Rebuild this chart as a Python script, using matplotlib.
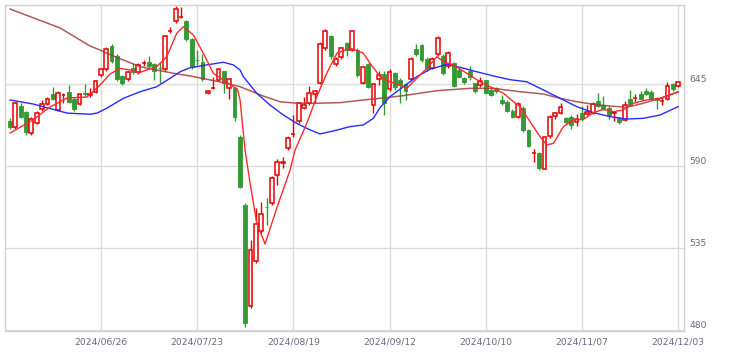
import matplotlib
matplotlib.use("Agg")
import matplotlib.pyplot as plt
import numpy as np

# ---- data ----
tick_labels = ["2024/06/26", "2024/07/23", "2024/08/19", "2024/09/12",
               "2024/10/10", "2024/11/07", "2024/12/03"]
tick_index = [17, 35, 53, 71, 89, 107, 125]

opens = [620, 616, 630, 626, 612, 619, 628, 631.6, 638, 627.6,
         637.4, 639.6, 635, 631.6, 639, 637.8, 639.6, 651, 655, 670.5,
         664, 650.4, 648.3, 655.7, 653, 659, 659.8, 658.4, 656, 655,
         680.3, 687.3, 689.7, 687, 675, 661.3, 659.8, 639, 642.3, 647.7,
         653.7, 642.3, 642.3, 609.5, 563.8, 496, 526.3, 546.4, 562.8, 565.2,
         584, 592.2, 602.1, 611.3, 620.2, 628.9, 632.3, 638.3, 645.7, 669.1,
         677.2, 658.4, 663.1, 672.5, 667.8, 667.8, 645.7, 658.4, 630.9, 648.3,
         651.7, 641.6, 652.4, 647.7, 645, 648.3, 668.5, 671.2, 661.8, 655.7,
         665, 663.8, 657.1, 659.1, 654.4, 649, 653.7, 645.7, 644.3, 647.7,
         641, 642.3, 634.3, 632.9, 626.9, 622.9, 628.9, 614.2, 598.5, 598.7,
         588, 610.1, 623.5, 625.5, 622.2, 622.9, 619.5, 625.5, 624.9, 625.5,
         633.6, 630.9, 628.9, 625.5, 622.2, 620.9, 634.9, 635.5, 638.3, 640.3,
         639.6, 635.6, 633.4, 634.9, 645, 643.7]
highs = [622, 633, 632, 627, 623, 627, 634, 636, 643, 640,
         639, 644, 636, 639, 645, 642, 648, 656, 670, 672,
         665, 651, 654, 659, 659, 661, 664, 659, 660, 678,
         683, 697, 696.6, 688, 676, 668, 665, 641, 649.7, 656,
         654, 649, 643, 611, 565, 540.4, 562, 566, 568.5, 583,
         595, 596, 610, 624.2, 633, 636.3, 643.7, 641, 673, 682,
         678, 663, 670, 673, 681.5, 669, 657, 659, 646, 653.7,
         653.7, 655, 653, 649, 646, 663, 672, 672, 663, 663,
         677, 665, 667, 660, 656, 650, 657, 646, 650, 648,
         642, 643, 637.6, 634, 628, 633, 630, 615, 601.7, 599.5,
         610, 624, 626.2, 632, 623, 624, 624.9, 630, 631, 633,
         639, 637, 630, 627, 623, 633.6, 641, 638.3, 640, 642,
         641, 636, 636.3, 646.3, 646, 647]
lows = [615, 615, 622, 611, 611, 618, 627, 631, 634, 627,
        632, 632, 627, 631, 637, 636, 639, 650, 654, 659,
        647, 644.3, 647, 652, 652, 657, 656, 648, 646, 654,
        679, 686, 689.5, 674, 655, 657.7, 647, 638, 641.6, 647,
        639, 635, 620, 575, 482, 495, 525, 545, 550.4, 564,
        577, 588.7, 601, 609.5, 619, 628, 631, 632.3, 645, 667.8,
        662, 657, 662, 664, 667, 650, 645, 642, 625.5, 644.3,
        624.2, 640, 641, 632.3, 634, 647, 664, 660, 654, 655,
        664, 651, 656, 643, 649, 645, 648, 639, 643, 638,
        637, 639, 630.9, 626, 622, 622, 613, 603, 592.7, 587.4,
        588, 609, 621.5, 625, 618, 614.8, 617, 620, 624, 625,
        629.5, 627.5, 621.5, 620, 618, 620, 630, 633, 634, 637.6,
        634, 628.2, 631, 634, 640.5, 643]
closes = [616, 632, 623, 613, 621.5, 625.5, 631.6, 635, 635, 639,
          637.8, 633, 628, 638.3, 638, 638.3, 647, 655, 668.5, 660.4,
          648.3, 645.7, 653, 653, 657.7, 659.4, 657, 653.7, 655.5, 677,
          680.6, 695.3, 690, 675, 656.4, 661, 648.3, 640.3, 642.5, 655,
          645.7, 648.3, 622.9, 575.9, 484.7, 533.7, 551.1, 557.8, 562.2, 582,
          592.7, 592.6, 608.8, 611.6, 632.3, 630.9, 639, 640.3, 671.8, 680.5,
          663.8, 661.8, 669.1, 667.8, 680.5, 651, 656.4, 643, 645, 651,
          632.3, 653, 643, 644.3, 640.3, 661.8, 665.1, 661.1, 655.7, 661.8,
          676, 652.4, 665.8, 643.7, 649.7, 646.3, 649.7, 640.3, 647, 639,
          637.6, 640.3, 632.3, 626.9, 622.9, 631.6, 614.2, 603.4, 598.9, 588.7,
          609.5, 622.9, 625.5, 629.6, 619.5, 617.5, 621.5, 622.2, 626.2, 631.6,
          630.2, 628.2, 624.2, 626.2, 619.5, 630.9, 630.9, 635.8, 634.9, 638.3,
          634.9, 634.3, 633.8, 643.7, 641.6, 646.3]

# moving-average lines, read as (candle index, price) points
ma_short_idx = [0, 4.30, 7.49, 10.67, 14.41, 16.84, 18.71, 20.58, 22.46, 24.01,
                25.58, 27.45, 29.32, 31.19, 32.43, 34.30, 36.17, 38.04, 39.91, 41.78,
                42.54, 43.04, 43.41, 43.97, 44.91, 46.16, 47.72, 49.91, 52.40, 53.33,
                55.52, 57.39, 59.26, 60.50, 61.19, 63.62, 66.06, 67.37, 69.24, 71.11,
                72.98, 74.23, 76.10, 77.97, 79.85, 81.08, 82.95, 85.46, 87.95, 90.44,
                92.31, 94.18, 95.43, 97.31, 99.18, 100.43, 101.67, 103.54, 105.41, 107.28,
                109.15, 111.02, 112.89, 114.76, 116.63, 119.14, 121.63, 123.50, 125.0]
ma_short_val = [612.1, 620.9, 629.6, 635.6, 636.3, 644.3, 651.7, 655.5, 654.4, 652.4,
                654.4, 656.6, 663.3, 679.0, 683.4, 677.9, 665.6, 652.2, 647.7, 643.2,
                641.6, 634.3, 620.9, 600.7, 578.6, 551.8, 537.7, 561.8, 587.3, 600.7,
                618.6, 636.5, 652.2, 661.1, 665.8, 669.1, 665.8, 658.9, 649.9, 646.5,
                644.3, 642.1, 648.8, 655.5, 663.3, 660.0, 657.7, 652.2, 646.5, 642.1,
                638.8, 633.1, 629.8, 619.7, 609.6, 604.1, 605.2, 616.4, 620.9, 621.3,
                625.8, 628.0, 626.4, 627.6, 632.1, 634.3, 635.4, 637.6, 639.8]
ma_mid_idx = [0, 4.30, 10.67, 14.97, 16.28, 18.09, 21.2, 24.33, 27.45, 29.94,
              31.81, 33.68, 36.81, 39.91, 41.78, 43.04, 43.66, 46.16, 48.65, 51.14,
              53.65, 56.14, 58.01, 60.5, 63.62, 66.11, 67.98, 69.24, 71.1, 73.6,
              76.1, 78.59, 81.72, 84.21, 87.33, 90.44, 93.56, 96.69, 99.79, 102.92,
              106.04, 109.15, 112.28, 115.4, 118.51, 121.63, 125.0]
ma_mid_val = [634.3, 631.6, 625.5, 624.7, 625.5, 628.7, 635.4, 639.8, 643.2, 648.8,
              653.2, 655.9, 657.8, 659.6, 657.8, 654.4, 649.9, 638.8, 630.9, 624.2,
              618.6, 614.2, 611.5, 613.5, 616.4, 617.5, 622.0, 629.2, 636.5, 643.2,
              649.9, 654.9, 658.2, 656.2, 653.2, 650.4, 647.9, 646.5, 641.0, 635.4,
              629.8, 625.8, 623.1, 621.5, 622.0, 624.2, 629.8]
ma_long_idx = [0, 9.36, 14.97, 16.84, 18.09, 21.2, 24.33, 27.45, 30.56, 33.68,
               36.81, 39.91, 43.04, 47.4, 50.52, 53.65, 57.39, 61.75, 66.11, 69.24,
               73.6, 79.85, 86.08, 90.44, 95.43, 99.79, 102.92, 106.04, 109.15, 112.28,
               115.4, 118.51, 121.63, 125.0]
ma_long_val = [695.3, 682.6, 670.5, 667.8, 665.6, 661.1, 656.6, 654.4, 652.2, 650.4,
               648.2, 645.9, 643.2, 636.9, 633.1, 632.1, 632.1, 632.5, 634.3, 635.4,
               637.2, 640.5, 642.1, 642.1, 639.8, 638.3, 635.4, 633.1, 631.4, 630.2,
               629.4, 632.1, 635.4, 639.8]
y_ticks = [480, 535, 590, 645]

# ---- figure ----
fig = plt.figure(figsize=(7.30, 3.58), dpi=100)
ax = fig.add_axes([5 / 730, 1 - 331 / 358, 679 / 730, 326 / 358])

UP = "#e60000"
DOWN = "#339933"
width = 0.72
for i, (o, h, l, c) in enumerate(zip(opens, highs, lows, closes)):
    up = c >= o
    col = UP if up else DOWN
    ax.vlines(i, l, h, color=col, linewidth=1.0, zorder=2)
    lo, hi = min(o, c), max(o, c)
    hgt = max(hi - lo, 0.35)
    if up:
        ax.bar(i, hgt, width=width, bottom=lo, facecolor="white", edgecolor=col,
               linewidth=1.1, zorder=3)
    else:
        ax.bar(i, hgt, width=width, bottom=lo, facecolor=col, edgecolor=col,
               linewidth=0.6, zorder=3)

ax.plot(ma_long_idx, ma_long_val, color="#a53c3c", linewidth=1.1, alpha=0.85, zorder=4)
ax.plot(ma_mid_idx, ma_mid_val, color="#2a2aff", linewidth=1.0, zorder=4)
ax.plot(ma_short_idx, ma_short_val, color="#ff2a2a", linewidth=1.0, zorder=5)

ax.set_xlim(-0.94, 126.1)
ax.set_ylim(479.3, 698)

ax.set_xticks(tick_index)
ax.set_xticklabels(tick_labels)
ax.set_yticks(y_ticks)
ax.set_yticklabels([str(v) for v in y_ticks])
ax.yaxis.tick_right()
ax.tick_params(axis="both", length=0, labelsize=6.6, labelcolor="#666a80")
ax.tick_params(axis="x", pad=5)
ax.tick_params(axis="y", pad=4)
for lbl in ax.get_yticklabels():
    lbl.set_verticalalignment("bottom")

ax.grid(True, color="#dcdcdc", linewidth=1.0, zorder=0)
ax.set_axisbelow(True)
for s in ax.spines.values():
    s.set_color("#d0d0d0")
    s.set_linewidth(1.0)

fig.savefig("out.png", dpi=100)
